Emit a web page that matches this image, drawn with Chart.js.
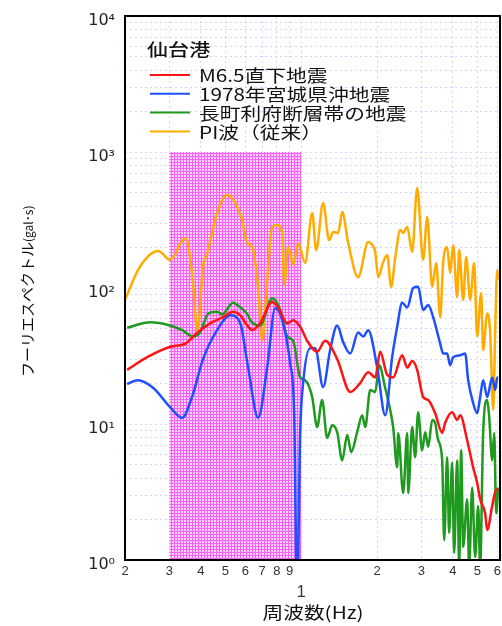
<!DOCTYPE html>
<html lang="ja">
<head>
<meta charset="utf-8">
<title>仙台港 フーリエスペクトル</title>
<script src="https://cdn.jsdelivr.net/npm/chart.js@4.4.1/dist/chart.umd.min.js"></script>
<style>
  html, body { margin: 0; padding: 0; background: #fff; }
  #wrap { width: 502px; height: 626px; }
</style>
</head>
<body>
<div id="wrap"><canvas id="spectrum" width="502" height="626"></canvas></div>
<script>
// values: frequency (Hz) / Fourier amplitude (gal·s)
const seriesLabels = ['M6.5直下地震', '1978年宮城県沖地震', '長町利府断層帯の地震', 'PI波（従来）'];
const seriesColors = ['#ff1414', '#1f4fff', '#1f9a1f', '#ffab00'];

const redFreq = [0.204,0.245,0.302,0.347,0.387,0.435,0.490,0.537,0.573,0.616,0.640,0.687,0.767,0.811,0.880,0.929,0.991,1.056,1.157,1.245,1.390,1.565,1.714,1.845,1.967,2.058,2.194,2.317,2.516,2.635,2.757,2.885,3.047,3.192,3.401,3.627,3.726,3.972,4.158,4.274,4.556,4.812,4.991,5.131,5.370,5.470,5.727,5.941,6.05];
const redAmp = [25,31,37,39,47,55,61,67,63,52,49,55,79,72,55,58,52,41,34,41,30,17.2,20,24,22,34,23,22,32,26,29,25,15.8,15.0,12.0,8.6,10.2,12.2,10.7,11.6,7.6,4.8,3.7,2.8,2.2,1.66,2.5,3.3,3.3];

const blueFreq = [0.204,0.225,0.259,0.302,0.337,0.369,0.408,0.464,0.523,0.573,0.616,0.675,0.733,0.789,0.841,0.904,0.938,0.964,0.991,1.018,1.086,1.137,1.222,1.303,1.390,1.468,1.565,1.683,1.762,1.845,2.003,2.155,2.296,2.404,2.516,2.635,2.783,2.911,3.047,3.192,3.340,3.561,3.659,3.795,3.900,4.008,4.274,4.474,4.598,4.812,4.991,5.131,5.273,5.470,5.727,5.887,5.996,6.05];
const blueAmp = [19.7,21,18.4,13.3,11.1,15.8,30,49,63,55,26,11.1,26,71,58,28,12.0,0.5,8.6,20,36,36,18.7,35,53,40,33,47,44,49,26,11.6,31,52,78,72,100,102,69,75,61,39,33,33,27,31,32,33,21,14.3,12.0,15.8,21,15.8,22,17.8,22,22];

const greenFreq = [0.204,0.252,0.302,0.337,0.373,0.397,0.428,0.464,0.486,0.537,0.573,0.616,0.628,0.687,0.767,0.826,0.880,0.929,0.991,1.037,1.106,1.157,1.211,1.268,1.328,1.390,1.455,1.523,1.579,1.668,1.746,1.795,1.879,1.967,2.040,2.155,2.255,2.317,2.404,2.427,2.539,2.635,2.659,2.757,2.833,2.911,3.019,3.105,3.192,3.310,3.401,3.496,3.627,3.693,3.795,3.864,3.972,4.045,4.158,4.235,4.313,4.393,4.556,4.640,4.769,4.901,5.037,5.131,5.273,5.470,5.571,5.727,5.833,5.941,6.05];
const greenAmp = [51,56,53,49,44,47,65,67,64,78,72,63,58,53,84,69,44,41,22,21,15.8,9.5,15.0,7.9,9.8,8.7,5.4,8.3,6.2,8.7,11.6,9.5,17.8,17.2,27,18.4,12.7,9.5,4.8,8.6,3.1,8.6,3.1,9.5,5.7,12.2,6.4,8.7,6.8,10.7,10.2,7.6,5.4,1.40,5.7,1.58,5.2,1.13,5.4,0.9,6.4,1.25,2.8,0.9,3.4,1.05,2.5,0.9,8.6,15.0,11.3,5.4,8.6,2.2,3.4];

const orangeFreq = [0.200,0.229,0.271,0.302,0.347,0.369,0.387,0.408,0.424,0.464,0.508,0.578,0.611,0.628,0.645,0.675,0.700,0.733,0.767,0.803,0.841,0.857,0.888,0.929,0.973,1.037,1.106,1.147,1.222,1.291,1.340,1.402,1.455,1.537,1.683,1.845,1.914,1.967,2.021,2.115,2.194,2.275,2.361,2.471,2.539,2.635,2.757,2.885,3.047,3.163,3.310,3.433,3.561,3.659,3.795,3.900,4.008,4.158,4.235,4.393,4.515,4.682,4.856,4.991,5.178,5.273,5.470,5.623,5.780,5.887,5.996,6.05];
const orangeAmp = [82,143,187,161,233,129,49,143,181,356,483,333,214,207,190,100,41,115,281,290,254,105,200,148,214,153,356,190,422,225,258,254,362,214,120,218,207,184,120,155,175,102,166,267,254,281,184,544,161,333,102,153,61,153,200,129,207,86,190,82,169,82,153,44,92,35,65,47,12.7,49,136,115];

const xTickValues = [0.2,0.3,0.4,0.5,0.6,0.7,0.8,0.9,1,2,3,4,5,6];
const yTickValues = [1,2,3,4,5,6,7,8,9,10,20,30,40,50,60,70,80,90,100,200,300,400,500,600,700,800,900,1000,2000,3000,4000,5000,6000,7000,8000,9000,10000];
const yTickLabels = { 1: '10⁰', 10: '10¹', 100: '10²', 1000: '10³', 10000: '10⁴' };

// shaded band (0.3–1.0 Hz, up to 10^3)
const bandFreq = [0.3, 1.0];
const bandAmp = [1, 1000];

const points = (fs, as) => fs.map((f, i) => ({ x: f, y: as[i] }));

const seriesData = [
    points(redFreq, redAmp),
    points(blueFreq, blueAmp),
    points(greenFreq, greenAmp),
    points(orangeFreq, orangeAmp)
];

const JP = '"Noto Sans CJK JP", "Noto Sans", sans-serif';

function pinkPattern(ctx) {
    const c = document.createElement('canvas');
    c.width = 3;
    c.height = 3;
    const p = c.getContext('2d');
    p.fillStyle = '#ffd4ff';
    p.fillRect(0, 0, 3, 3);
    p.fillStyle = '#f462f4';
    p.fillRect(0, 0, 3, 1);
    p.fillRect(0, 0, 1, 3);
    return ctx.createPattern(c, 'repeat');
}

function stretchedText(ctx, text, x, y, font, sx, align) {
    ctx.save();
    ctx.font = font;
    ctx.translate(x, y);
    ctx.scale(sx, 1);
    ctx.textAlign = align;
    ctx.textBaseline = 'middle';
    ctx.fillText(text, 0, 0);
    ctx.restore();
}

const bandPlugin = {
    id: 'band',
    beforeDatasetsDraw(chart) {
        const { ctx, scales: { x, y } } = chart;
        const left = x.getPixelForValue(bandFreq[0]);
        const right = x.getPixelForValue(bandFreq[1]);
        const top = y.getPixelForValue(bandAmp[1]);
        const bottom = y.getPixelForValue(bandAmp[0]);
        ctx.save();
        ctx.fillStyle = pinkPattern(ctx);
        ctx.fillRect(left, top, right - left, bottom - top);
        ctx.restore();
    }
};

const decorPlugin = {
    id: 'decor',
    afterDraw(chart) {
        const { ctx, chartArea: a } = chart;

        // frame
        ctx.save();
        ctx.strokeStyle = '#000';
        ctx.lineWidth = 2;
        ctx.strokeRect(a.left, a.top, a.right - a.left, a.bottom - a.top);
        ctx.restore();

        // legend
        ctx.save();
        ctx.fillStyle = '#111';
        stretchedText(ctx, '仙台港', 147, 50, '500 17px ' + JP, 1.24, 'left');
        chart.data.datasets.forEach((ds, i) => {
            const yy = 75 + i * 18.8;
            ctx.strokeStyle = ds.borderColor;
            ctx.lineWidth = 2;
            ctx.beginPath();
            ctx.moveTo(150, yy);
            ctx.lineTo(190, yy);
            ctx.stroke();
            ctx.fillStyle = '#111';
            stretchedText(ctx, ds.label, 199, yy + 1, '17px ' + JP, 1.22, 'left');
        });
        ctx.restore();

        // x title
        ctx.save();
        ctx.fillStyle = '#111';
        stretchedText(ctx, '周波数(Hz)', 313, 613, '17px ' + JP, 1.22, 'center');
        ctx.restore();

        // y title (rotated), small unit part
        ctx.save();
        ctx.fillStyle = '#111';
        ctx.translate(27, 377);
        ctx.rotate(-Math.PI / 2);
        ctx.textBaseline = 'middle';
        ctx.textAlign = 'left';
        ctx.font = '15px ' + JP;
        const main = 'フーリエスペクトル';
        ctx.fillText(main, 0, 0);
        const w = ctx.measureText(main).width;
        ctx.font = '12px ' + JP;
        ctx.fillText('(gal･s)', w, 1);
        ctx.restore();
    }
};

const gridColor = 'rgba(170, 170, 255, 0.5)';

new Chart(document.getElementById('spectrum'), {
    type: 'line',
    data: {
        datasets: seriesData.map((d, i) => ({
            label: seriesLabels[i],
            data: d,
            borderColor: seriesColors[i],
            borderWidth: 2.5,
            pointRadius: 0,
            cubicInterpolationMode: 'monotone',
            fill: false
        }))
    },
    options: {
        responsive: false,
        animation: false,
        layout: { padding: { top: 16, right: 2, left: 0, bottom: 0 } },
        plugins: {
            legend: { display: false },
            tooltip: { enabled: false }
        },
        scales: {
            x: {
                type: 'logarithmic',
                min: 0.2,
                max: 6.15,
                afterBuildTicks: (scale) => {
                    scale.ticks = xTickValues.map(v => ({ value: v }));
                },
                afterFit: (scale) => {
                    scale.height = 66;
                    scale.paddingLeft = 0;
                    scale.paddingRight = 0;
                },
                grid: { color: gridColor, lineWidth: 1, drawTicks: false },
                border: { display: false, dash: [2, 3] },
                ticks: {
                    autoSkip: false,
                    maxRotation: 0,
                    minRotation: 0,
                    padding: 4,
                    color: '#333',
                    font: (c) => ({
                        family: '"Liberation Sans", Arial, sans-serif',
                        size: c.tick && c.tick.value === 1 ? 16 : 13
                    }),
                    callback: (v) => v === 1 ? ['', '1'] : (v < 1 ? String(Math.round(v * 10)) : String(v))
                }
            },
            y: {
                type: 'logarithmic',
                min: 1,
                max: 10000,
                afterBuildTicks: (scale) => {
                    scale.ticks = yTickValues.map(v => ({ value: v }));
                },
                afterFit: (scale) => {
                    scale.width = 125;
                    scale.paddingTop = 0;
                    scale.paddingBottom = 0;
                },
                grid: { color: gridColor, lineWidth: 1, drawTicks: false },
                border: { display: false, dash: [2, 3] },
                ticks: {
                    autoSkip: false,
                    padding: 10,
                    labelOffset: 5,
                    color: '#222',
                    font: { family: '"DejaVu Sans", sans-serif', size: 16 },
                    callback: (v) => yTickLabels[v] || ''
                }
            }
        }
    },
    plugins: [bandPlugin, decorPlugin]
});
</script>
</body>
</html>
